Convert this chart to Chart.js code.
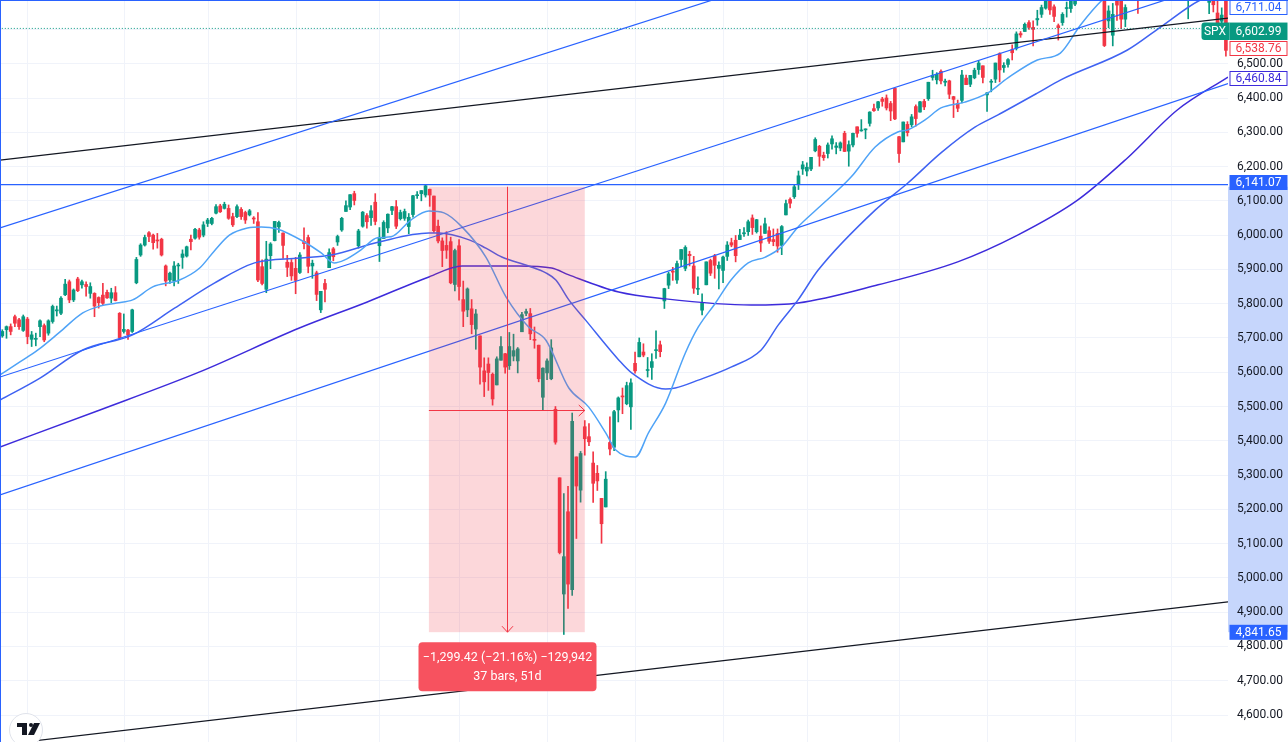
<!DOCTYPE html>
<html lang="en">
<head>
<meta charset="UTF-8">
<title>SPX daily</title>
<style>
  body { margin: 0; background: #ffffff; }
  .chart-container { width: 1288px; height: 742px; position: relative; }
</style>
</head>
<body>
<div class="chart-container"><canvas id="spxChart" width="1288" height="742"></canvas></div>
<script src="https://cdn.jsdelivr.net/npm/chart.js"></script>
<script>
// daily bars, index 0 = 23 Sep 2024 ... 293 = 21 Nov 2025
const opens = [
  5706,5724,5733,5762,5753,5722,5755,5696,5696,5733, 5736,5714,5748,5779,5772,5826,5864,5811,5872,5855,
  5856,5830,5830,5818,5825,5833,5816,5832,5772,5719, 5723,5719,5861,5942,5971,6007,6000,5985,5988,5910,
  5869,5866,5910,5935,5939,5988,5991,6015,6000,6034, 6034,6064,6085,6078,6078,6054,6054,6075,6066,6059,
  6049,6039,5908,5842,5940,5984,6024,6006,5921,5920, 5903,5891,5982,5993,5910,5890,5782,5859,5905,5960,
  5980,6015,6069,6082,6121,5969,6026,6057,6051,6096, 5969,5990,6021,6072,6083,6048,6049,6025,6060,6115,
  6121,6117,6134,6114,6026,5983,5970,5981,5856,5969, 5812,5782,5785,5726,5706,5604,5624,5594,5563,5635,
  5654,5619,5647,5633,5718,5772,5771,5696,5679,5527, 5598,5581,5492,5292,4953,5193,4966,5353,5256,5441,
  5412,5335,5305,5232,5207,5395,5381,5490,5529,5508, 5499,5626,5645,5659,5605,5614,5663,5680,5808,5854,
  5895,5869,5929,5903,5944,5910,5842,5781,5855,5926, 5939,5903,5897,5938,5978,5985,5987,6004,6010,6050,
  6010,5997,6005,6013,5987,6005,5970,6059,6104,6112, 6150,6193,6187,6193,6246,6259,6233,6238,6266,6256,
  6254,6297,6245,6263,6316,6304,6307,6326,6369,6371, 6397,6400,6384,6428,6287,6272,6323,6322,6375,6359,
  6390,6398,6460,6453,6478,6446,6450,6404,6384,6393, 6458,6440,6459,6483,6494,6409,6446,6455,6529,6489,
  6498,6541,6545,6588,6594,6620,6606,6628,6644,6662, 6694,6666,6611,6620,6661,6661,6674,6732,6722,6721,
  6740,6727,6751,6740,6625,6583,6683,6686,6630,6687, 6736,6740,6696,6774,6839,6875,6908,6868,6871,6871,
  6787,6761,6793,6702,6780,6805,6864,6836,6679,6738, 6648,6624,6701,6555
];
const highs = [
  5724,5735,5741,5767,5757,5767,5760,5719,5714,5753, 5741,5753,5796,5793,5821,5871,5869,5843,5877,5869,
  5864,5861,5832,5820,5859,5840,5845,5850,5774,5770, 5725,5784,5935,5975,6000,6010,6003,6005,5991,5913,
  5892,5923,5918,5957,5968,6000,6020,6020,6039,6049, 6052,6089,6090,6096,6088,6064,6088,6080,6070,6075,
  6054,6066,5928,5982,5978,6040,6041,6007,5941,5929, 5935,5949,6021,6000,5927,5895,5836,5871,5960,5964,
  6000,6052,6100,6118,6128,6017,6069,6063,6086,6121, 6022,6042,6062,6084,6101,6073,6076,6063,6116,6127,
  6130,6147,6134,6114,6044,5992,6010,5994,5959,5987, 5866,5846,5812,5783,5706,5642,5642,5598,5645,5704,
  5655,5716,5711,5672,5775,5784,5786,5732,5679,5613, 5639,5695,5500,5292,5246,5267,5481,5353,5369,5459,
  5450,5368,5328,5232,5310,5470,5489,5528,5554,5571, 5581,5659,5700,5683,5643,5654,5721,5691,5845,5892,
  5906,5924,5958,5969,5953,5938,5878,5829,5922,5930, 5944,5922,5939,5981,5991,5999,6017,6022,6044,6059,
  6046,6027,6050,6024,6018,6018,6028,6102,6109,6146, 6187,6215,6211,6227,6284,6262,6242,6269,6290,6270,
  6272,6303,6275,6298,6316,6337,6310,6360,6382,6390, 6402,6409,6390,6428,6288,6330,6331,6352,6380,6390,
  6396,6446,6481,6474,6482,6455,6452,6405,6394,6481, 6467,6466,6487,6508,6494,6416,6454,6502,6532,6503,
  6515,6555,6593,6594,6619,6626,6625,6656,6671,6696, 6697,6672,6616,6649,6680,6689,6718,6733,6750,6749,
  6740,6754,6753,6764,6669,6676,6711,6723,6672,6745, 6752,6745,6748,6807,6876,6900,6920,6869,6872,6872,
  6803,6814,6801,6730,6835,6849,6869,6838,6775,6742, 6683,6663,6771,6647
];
const lows = [
  5702,5699,5709,5733,5725,5719,5683,5675,5677,5704, 5689,5708,5743,5764,5768,5823,5803,5806,5835,5845,
  5822,5816,5762,5787,5796,5815,5803,5808,5696,5714, 5696,5716,5858,5938,5968,5981,5959,5962,5939,5852,
  5859,5852,5859,5903,5936,5957,5988,5988,5995,6025, 6030,6062,6066,6076,6046,6025,6051,6046,6034,6056,
  6034,5864,5855,5832,5902,5983,6008,5932,5879,5868, 5829,5888,5960,5890,5874,5809,5774,5805,5905,5925,
  5970,6011,6069,6074,6088,5962,6023,6020,6028,6030, 5923,5990,6007,6060,6019,6044,6043,6004,6052,6107,
  6100,6111,6084,6008,5977,5908,5932,5858,5837,5810, 5733,5762,5712,5667,5565,5529,5547,5504,5563,5635,
  5597,5608,5633,5598,5718,5765,5695,5670,5572,5489, 5578,5578,5390,5070,4835,4911,4949,5115,5221,5358,
  5386,5220,5255,5101,5207,5359,5371,5455,5479,5505, 5433,5597,5645,5645,5586,5579,5640,5645,5786,5844,
  5868,5859,5908,5896,5910,5830,5826,5767,5855,5882, 5874,5843,5861,5926,5966,5922,5987,5996,5999,6002,
  6006,5952,6005,5976,5969,5950,5943,6059,6079,6107, 6133,6177,6173,6188,6243,6201,6218,6225,6251,6237,
  6246,6244,6201,6257,6286,6303,6281,6318,6361,6364, 6376,6365,6334,6337,6212,6272,6289,6316,6318,6359,
  6366,6393,6452,6441,6441,6435,6398,6343,6360,6386, 6439,6433,6456,6469,6444,6361,6418,6445,6447,6475,
  6490,6511,6540,6577,6594,6600,6552,6612,6635,6659, 6644,6623,6569,6612,6636,6650,6669,6693,6707,6707,
  6697,6726,6719,6550,6605,6552,6626,6602,6608,6684, 6721,6647,6687,6773,6831,6862,6869,6817,6808,6821,
  6761,6761,6708,6631,6780,6800,6837,6732,6646,6651, 6590,6606,6522,6538
];
const closes = [
  5719,5733,5719,5743,5733,5762,5704,5709,5697,5750, 5694,5750,5792,5782,5816,5857,5811,5840,5838,5864,
  5850,5850,5793,5803,5801,5817,5832,5809,5701,5725, 5709,5782,5929,5971,5993,5996,5978,5983,5942,5866,
  5889,5910,5912,5945,5966,5981,6017,5994,6030,6044, 6049,6083,6068,6090,6049,6030,6083,6054,6044,6071,
  6047,5869,5859,5930,5974,6040,6037,5970,5906,5881, 5868,5942,5975,5909,5918,5827,5836,5842,5949,5937,
  5996,6049,6086,6118,6101,6012,6067,6039,6071,6040, 5994,6037,6061,6083,6026,6066,6069,6052,6115,6115,
  6130,6144,6117,6013,5983,5955,5956,5861,5955,5850, 5778,5843,5739,5770,5615,5572,5599,5522,5639,5675,
  5615,5675,5663,5668,5768,5777,5712,5693,5581,5612, 5633,5671,5396,5074,5062,4982,5457,5268,5363,5406,
  5397,5276,5283,5158,5288,5376,5485,5525,5528,5561, 5569,5604,5687,5650,5607,5631,5664,5660,5844,5887,
  5892,5917,5958,5964,5940,5845,5842,5802,5922,5889, 5912,5912,5936,5971,5971,5940,6000,6006,6039,6022,
  6045,5977,6033,5982,5981,5968,6025,6092,6093,6141, 6173,6205,6198,6227,6279,6230,6226,6263,6281,6260,
  6269,6244,6264,6297,6297,6306,6309,6359,6363,6389, 6390,6371,6362,6339,6238,6330,6299,6345,6340,6389,
  6374,6446,6466,6469,6450,6449,6411,6396,6370,6467, 6439,6466,6481,6502,6460,6415,6448,6502,6482,6495,
  6512,6532,6587,6584,6615,6606,6600,6632,6664,6693, 6657,6638,6605,6644,6661,6688,6711,6715,6716,6740,
  6714,6753,6735,6553,6654,6644,6671,6630,6664,6735, 6735,6699,6738,6792,6875,6891,6890,6822,6840,6852,
  6772,6796,6720,6729,6832,6846,6851,6737,6734,6672, 6617,6642,6539,6603
];

// moving averages as [bar index, price]
const ma20 = [[-0.55,5592],[4.2,5630],[8.5,5665],[13.7,5717],[19.2,5773],[23.3,5793],[27.3,5802],[31.1,5811],
  [35.9,5849],[42.3,5869],[47.1,5904],[50.6,5954],[54.2,6000],[58.5,6021],[61.8,6024],[65.6,6018],[72.1,5980],
  [76.1,5948],[79.2,5919],[81.6,5927],[85.6,5957],[89.5,5992],[92.8,5995],[97.5,6044],[101.8,6070],[105.4,6065],
  [109.7,6024],[115.4,5936],[120.2,5820],[125.6,5732],[129.7,5694],[135.2,5554],[139.9,5499],[144,5423],
  [146.4,5373],[151.1,5353],[154.2,5423],[158.3,5510],[163,5656],[166.1,5732],[170.2,5802],[173.9,5869],
  [178,5919],[182.1,5936],[185.9,5965],[189.9,6024],[194.7,6079],[202.6,6170],[208.3,6257],[213.7,6301],
  [216.1,6307],[220.2,6336],[224,6371],[229.7,6388],[235.2,6415],[239.9,6458],[247,6511],[252.5,6531],
  [257.3,6613],[262.5,6686],[270.9,6759],[292.5,6759]];
const ma50 = [[-0.55,5519],[9,5583],[19.2,5665],[31.1,5709],[41.1,5787],[50.6,5860],[60.2,5919],[70.9,5933],
  [78.5,5942],[89.9,5980],[101.8,6006],[104.2,6006],[111.4,5986],[115.4,5962],[119.2,5936],[125.6,5910],
  [129.7,5890],[132.1,5869],[135.2,5811],[139.2,5752],[147.1,5636],[150.2,5598],[158.3,5551],[160.6,5554],
  [166.1,5577],[173.9,5615],[181.1,5665],[185.2,5738],[189.9,5811],[194.7,5898],[208.3,6073],[216.1,6152],
  [224,6240],[232.1,6315],[237.5,6350],[247.1,6415],[252.6,6453],[268.5,6540],[276.4,6607],[285.9,6686],
  [292.5,6711]];
const ma100 = [[-0.55,5382],[23.3,5490],[47.1,5601],[70.9,5729],[87.1,5805],[101.8,5878],[109.7,5910],
  [123.3,5910],[131.1,5904],[135.2,5884],[147.1,5834],[158.3,5814],[178.7,5796],[189.9,5802],[209,5855],
  [228,5922],[242.3,6000],[256.6,6102],[268.5,6225],[280.4,6365],[292.5,6461]];

// drawn trend lines [bar index, price] at both chart edges
const trendUpper = [[-0.55,6021],[292.5,7167]];
const trendMiddle = [[-0.55,5586],[292.5,6745]];
const trendLower = [[-0.55,5242],[292.5,6442]];
const trendBlackTop = [[-0.55,6219],[292.5,6633]];
const trendBlackBottom = [[-0.55,4513],[292.5,4930]];
const peakLine = 6147.43;
const lastPrice = 6602.99;

// price range measurement
const measureTop = 6141.07, measureBottom = 4841.65;
const measureStart = 101.8, measureEnd = 139.0, measureMidPrice = 5490;
const measureText = ['\u22121,299.42 (\u221221.16%) \u2212129,942', '37 bars, 51d'];

const tickValues = [4600,4700,4800,4900,5000,5100,5200,5300,5400,5500,5600,5700,5800,5900,6000,6100,6200,6300,6400,6500,6600];
const monthStarts = [6,29,49,70,90,109,130,151,172,192,214,235,256,279];

const UP = '#089981', DOWN = '#F23645', BLUE = '#2962FF', PURPLE = '#3D2BDB';
const xMin = -0.55, xMax = 292.5, yMin = 4521.3, yMax = 6685.9;

const fmt = v => v.toLocaleString('en-US', { minimumFractionDigits: 2, maximumFractionDigits: 2 });
const barColor = c => closes[c.dataIndex] >= opens[c.dataIndex] ? UP : DOWN;

function lineSet(points, color, width, dash) {
  return {
    type: 'line',
    data: points.map(p => ({ x: p[0], y: p[1] })),
    borderColor: color,
    borderWidth: width,
    borderDash: dash || [],
    pointRadius: 0,
    fill: false,
    cubicInterpolationMode: 'monotone',
    clip: 0
  };
}

function tag(ctx, yc, text, fill, color, stroke, h) {
  h = h || 15;
  const x0 = 1229.5, w = 58;
  ctx.fillStyle = fill;
  ctx.fillRect(x0, yc - h / 2, w, h);
  if (stroke) {
    ctx.strokeStyle = stroke;
    ctx.lineWidth = 1;
    ctx.strokeRect(x0 + 0.5, Math.round(yc - h / 2) + 0.5, w - 1, h - 1);
  }
  ctx.fillStyle = color;
  ctx.font = '12px Roboto';
  ctx.textAlign = 'center';
  ctx.textBaseline = 'middle';
  ctx.fillText(text, x0 + w / 2, yc + 0.5);
}

const overlay = {
  id: 'overlay',
  beforeDraw(chart) {
    const { ctx, chartArea: a, scales: { x, y } } = chart;
    ctx.save();
    ctx.fillStyle = '#ffffff';
    ctx.fillRect(0, 0, chart.width, chart.height);
    ctx.strokeStyle = '#F0F3FA';
    ctx.lineWidth = 1;
    monthStarts.forEach(i => {
      const px = Math.round(x.getPixelForValue(i)) + 0.5;
      ctx.beginPath(); ctx.moveTo(px, a.top); ctx.lineTo(px, a.bottom); ctx.stroke();
    });
    const t = y.getPixelForValue(measureTop), b = y.getPixelForValue(measureBottom);
    ctx.fillStyle = '#C6D6FC';
    ctx.fillRect(a.right, t, chart.width - a.right, b - t);
    ctx.restore();
  },
  afterDatasetsDraw(chart) {
    const { ctx, scales: { x, y } } = chart;
    const x0 = x.getPixelForValue(measureStart), x1 = x.getPixelForValue(measureEnd);
    const t = y.getPixelForValue(measureTop), b = y.getPixelForValue(measureBottom);
    const xm = Math.round((x0 + x1) / 2) + 0.5, ym = Math.round(y.getPixelForValue(measureMidPrice)) + 0.5;
    ctx.save();
    ctx.fillStyle = 'rgba(242, 54, 69, 0.2)';
    ctx.fillRect(x0, t, x1 - x0, b - t);
    ctx.strokeStyle = DOWN;
    ctx.lineWidth = 1;
    ctx.beginPath();
    ctx.moveTo(xm, t); ctx.lineTo(xm, b);
    ctx.moveTo(xm - 5.5, b - 6); ctx.lineTo(xm, b); ctx.lineTo(xm + 5.5, b - 6);
    ctx.moveTo(x0, ym); ctx.lineTo(x1, ym);
    ctx.moveTo(x1 - 6, ym - 5.5); ctx.lineTo(x1, ym); ctx.lineTo(x1 - 6, ym + 5.5);
    ctx.stroke();

    // measurement label
    const bx = xm - 89, by = b + 10, bw = 178, bh = 49;
    ctx.fillStyle = '#F7525F';
    ctx.beginPath();
    if (ctx.roundRect) ctx.roundRect(bx, by, bw, bh, 4); else ctx.rect(bx, by, bw, bh);
    ctx.fill();
    ctx.fillStyle = '#ffffff';
    ctx.font = '12.5px Roboto';
    ctx.textAlign = 'center';
    ctx.textBaseline = 'middle';
    ctx.fillText(measureText[0], xm, by + 16);
    ctx.fillText(measureText[1], xm, by + 34.5);
    ctx.restore();
  },
  afterDraw(chart) {
    const { ctx, chartArea: a, scales: { y } } = chart;
    ctx.save();
    tag(ctx, Math.max(7.5, y.getPixelForValue(6711.04)), '6,711.04', '#ffffff', BLUE, BLUE);
    tag(ctx, 31.3, fmt(lastPrice), UP, '#ffffff', null, 17.5);
    ctx.fillStyle = UP;
    ctx.beginPath();
    if (ctx.roundRect) ctx.roundRect(1201.5, 22.5, 28, 17.5, [3, 0, 0, 3]); else ctx.rect(1201.5, 22.5, 28, 17.5);
    ctx.fill();
    ctx.fillStyle = '#ffffff';
    ctx.font = '12px Roboto';
    ctx.textAlign = 'center';
    ctx.textBaseline = 'middle';
    ctx.fillText('SPX', 1215, 31.8);
    tag(ctx, 48, '6,538.76', '#ffffff', DOWN, DOWN);
    tag(ctx, 78.5, '6,460.84', '#ffffff', PURPLE, PURPLE);
    tag(ctx, 182.5, fmt(measureTop), BLUE, '#ffffff');
    tag(ctx, 632.3, fmt(measureBottom), BLUE, '#ffffff');

    // selection border
    ctx.fillStyle = BLUE;
    ctx.fillRect(0, 0, 1, chart.height);
    ctx.fillRect(0, 0, chart.width, 1);

    // logo
    ctx.fillStyle = '#ffffff';
    ctx.strokeStyle = '#E0E3EB';
    ctx.lineWidth = 1;
    ctx.beginPath(); ctx.arc(26, 730, 16.5, 0, Math.PI * 2); ctx.fill(); ctx.stroke();
    ctx.fillStyle = '#131722';
    ctx.fillRect(17, 723, 10, 4);
    ctx.fillRect(22, 723, 5, 12);
    ctx.beginPath(); ctx.arc(31, 725, 2, 0, Math.PI * 2); ctx.fill();
    ctx.beginPath();
    ctx.moveTo(34, 723); ctx.lineTo(40, 723); ctx.lineTo(34, 735); ctx.lineTo(28, 735);
    ctx.closePath(); ctx.fill();
    ctx.restore();
  }
};

const bars = opens.map((_, i) => i);
const hline = v => [[xMin - 1, v], [xMax + 1, v]];

new Chart(document.getElementById('spxChart'), {
  type: 'bar',
  data: {
    datasets: [
      lineSet(trendUpper, BLUE, 1.2),
      lineSet(trendMiddle, BLUE, 1.2),
      lineSet(trendLower, BLUE, 1.2),
      lineSet(trendBlackTop, '#131722', 1.2),
      lineSet(trendBlackBottom, '#131722', 1.2),
      lineSet(hline(peakLine), BLUE, 1.2),
      lineSet(hline(lastPrice), UP, 1, [1, 2]),
      lineSet(ma20, '#4FA3F7', 1.5),
      lineSet(ma50, '#3F62F2', 1.5),
      lineSet(ma100, PURPLE, 1.5),
      {
        data: bars.map(i => ({ x: i, y: [opens[i], closes[i]] })),
        backgroundColor: barColor,
        barThickness: 3,
        minBarLength: 1,
        grouped: false,
        clip: 0
      },
      {
        data: bars.map(i => ({ x: i, y: [lows[i], highs[i]] })),
        backgroundColor: barColor,
        barThickness: 1,
        grouped: false,
        clip: 0
      }
    ]
  },
  options: {
    responsive: false,
    animation: false,
    devicePixelRatio: 1,
    events: [],
    layout: { padding: 0 },
    plugins: { legend: { display: false }, tooltip: { enabled: false } },
    scales: {
      x: { type: 'linear', min: xMin, max: xMax, offset: false, display: false },
      y: {
        position: 'right',
        min: yMin,
        max: yMax,
        afterBuildTicks: s => { s.ticks = tickValues.map(v => ({ value: v })); },
        afterFit: s => { s.width = 60; s.paddingTop = 0; s.paddingBottom = 0; },
        grid: { color: '#F0F3FA', drawTicks: false },
        border: { display: false },
        ticks: {
          padding: 9,
          color: '#131722',
          font: { family: 'Roboto', size: 12 },
          callback: v => fmt(v)
        }
      }
    }
  },
  plugins: [overlay]
});
</script>
</body>
</html>
